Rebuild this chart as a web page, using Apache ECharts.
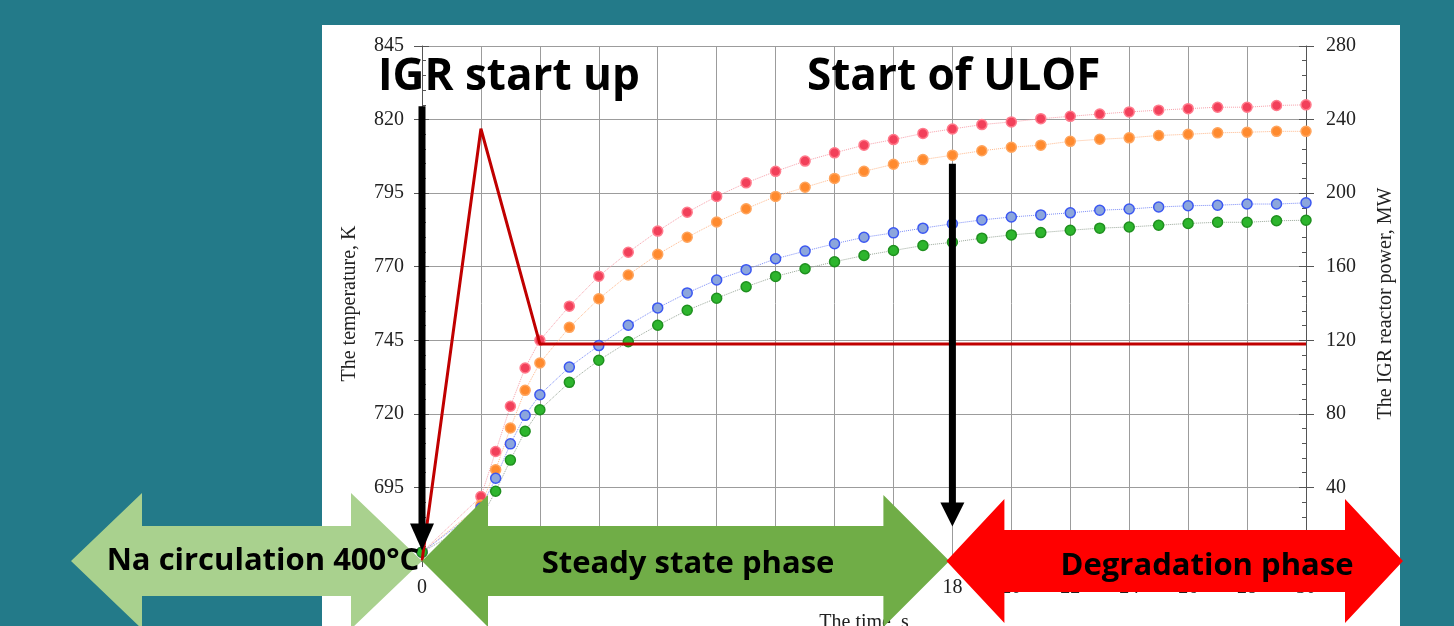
<!DOCTYPE html>
<html>
<head>
<meta charset="utf-8">
<script src="https://cdn.jsdelivr.net/npm/echarts@6/dist/echarts.min.js"></script>
<style>
html,body{margin:0;padding:0;background:#237a89;}
#chart{width:1454px;height:626px;}
</style>
</head>
<body>
<div id="chart"></div>
<script>
// ---- data ----
const timeS = [0, 2, 2.5, 3, 3.5, 4, 5, 6, 7, 8, 9, 10, 11, 12, 13, 14, 15, 16, 17, 18, 19, 20, 21, 22, 23, 24, 25, 26, 27, 28, 29, 30];
const tempRed    = [673, 691.9, 707.2, 722.6, 735.6, 745, 756.6, 766.8, 774.9, 782.1, 788.5, 793.9, 798.5, 802.4, 805.9, 808.7, 811.3, 813.2, 815.3, 816.8, 818.3, 819.2, 820.3, 821.1, 821.9, 822.6, 823.2, 823.7, 824.2, 824.2, 824.8, 825];
const tempOrange = [673, 689, 701, 715.2, 728, 737.3, 749.4, 759.1, 767.2, 774.2, 780, 785.2, 789.7, 793.9, 797, 800, 802.4, 804.8, 806.4, 807.9, 809.4, 810.6, 811.3, 812.6, 813.3, 813.8, 814.6, 815, 815.5, 815.7, 816, 816];
const tempBlue   = [673, 688, 698.1, 709.8, 719.5, 726.5, 735.9, 743.2, 750.1, 756, 761.1, 765.5, 769, 772.7, 775.3, 777.8, 780, 781.5, 783.1, 784.6, 785.9, 786.9, 787.6, 788.3, 789.2, 789.6, 790.3, 790.7, 790.9, 791.3, 791.3, 791.7];
const tempGreen  = [673, 684.5, 693.7, 704.3, 714.1, 721.4, 730.7, 738.2, 744.5, 750.1, 755.2, 759.3, 763.2, 766.7, 769.3, 771.7, 773.8, 775.5, 777.2, 778.3, 779.7, 780.8, 781.6, 782.4, 783.1, 783.5, 784.1, 784.7, 785.1, 785.1, 785.6, 785.8];
const powerTime = [0, 2, 4, 30];
const powerMW   = [0, 235, 118, 118];
const eventTimes = [0, 18];           // IGR start up, start of ULOF
const eventLabels = ['IGR start up', 'Start of ULOF'];
const phaseLabels = ['Na circulation 400°C', 'Steady state phase', 'Degradation phase'];
const xAxisName = 'The time, s';
const yLeftName = 'The temperature, K';
const yRightName = 'The IGR reactor power, MW';

const pairs = (xs, ys) => xs.map((x, i) => [x, ys[i]]);

const chart = echarts.init(document.getElementById('chart'), null, {renderer: 'canvas'});
const serif = '"Liberation Serif", "Times New Roman", serif';
const gridColor = '#9c9c9c';

function tempSeries(name, vals, fill, border, lineCol) {
  return {
    name, type: 'line', xAxisIndex: 0, yAxisIndex: 0,
    data: pairs(timeS, vals),
    symbol: 'circle', symbolSize: 10,
    itemStyle: {color: fill, borderColor: border, borderWidth: 1.5},
    lineStyle: {color: lineCol, width: 1, type: 'dotted'},
    z: 3
  };
}

chart.setOption({
  animation: false,
  backgroundColor: '#237a89',
  grid: {left: 422, right: 148, top: 46, bottom: 65, containLabel: false, outerBoundsMode: 'none'},
  xAxis: [{
    type: 'value', min: 0, max: 30, interval: 2,
    name: xAxisName, nameLocation: 'middle', nameGap: 52,
    nameTextStyle: {fontFamily: serif, fontSize: 20, color: '#222'},
    axisLine: {show: true, lineStyle: {color: '#555', width: 1}},
    axisTick: {show: true, length: 6, lineStyle: {color: '#555'}},
    axisLabel: {fontFamily: serif, fontSize: 20, color: '#222', margin: 17},
    splitLine: {show: true, lineStyle: {color: gridColor, width: 1}}
  }],
  yAxis: [
    {
      type: 'value', position: 'left', min: 670, max: 845, interval: 25,
      name: yLeftName, nameLocation: 'middle', nameGap: 62, nameRotate: 90,
      nameTextStyle: {fontFamily: serif, fontSize: 20, color: '#222'},
      axisLine: {show: true, lineStyle: {color: '#555'}},
      axisTick: {show: true, length: 8, lineStyle: {color: '#555'}},
      axisLabel: {fontFamily: serif, fontSize: 20, color: '#222', margin: 18},
      splitLine: {show: true, lineStyle: {color: gridColor, width: 1}}
    },
    {
      type: 'value', position: 'right', min: 0, max: 280, interval: 40,
      name: yRightName, nameLocation: 'middle', nameGap: 70, nameRotate: 90,
      nameTextStyle: {fontFamily: serif, fontSize: 20, color: '#222'},
      axisLine: {show: true, lineStyle: {color: '#555'}},
      axisTick: {show: true, length: 8, lineStyle: {color: '#555'}},
      axisLabel: {fontFamily: serif, fontSize: 20, color: '#222', margin: 20},
      splitLine: {show: false}
    },
    {
      type: 'value', position: 'left', min: 670, max: 845, interval: 25,
      axisLine: {show: false},
      axisTick: {show: true, inside: true, length: 7, lineStyle: {color: '#555'}},
      minorTick: {show: true, splitNumber: 5, length: 4, lineStyle: {color: '#555'}},
      axisLabel: {show: false}, splitLine: {show: false}
    },
    {
      type: 'value', position: 'right', min: 0, max: 280, interval: 40,
      axisLine: {show: false},
      axisTick: {show: true, inside: true, length: 7, lineStyle: {color: '#555'}},
      minorTick: {show: true, splitNumber: 5, length: 4, lineStyle: {color: '#555'}},
      axisLabel: {show: false}, splitLine: {show: false}
    }
  ],
  series: [
    tempSeries('red', tempRed, '#f2405a', '#ff7b8c', '#f8a0aa'),
    tempSeries('orange', tempOrange, '#ff8a2e', '#ffa55e', '#ffb98c'),
    tempSeries('blue', tempBlue, '#8ca6dc', '#3b57f2', '#7b8cf8'),
    tempSeries('green', tempGreen, '#2db52d', '#1f901f', '#9aa89a'),
    {
      name: 'power', type: 'line', xAxisIndex: 0, yAxisIndex: 1,
      data: pairs(powerTime, powerMW),
      symbol: 'none',
      lineStyle: {color: '#c00000', width: 3},
      z: 4
    }
  ]
});

// ---- annotations ----
function P(x, y, yi) { return chart.convertToPixel({xAxisIndex: 0, yAxisIndex: yi}, [x, y]); }

function dblArrow(x1, x2, cy, hl, hh, bh, color) {
  return {
    type: 'polygon', z: 100, silent: true,
    shape: {points: [
      [x1, cy], [x1 + hl, cy - hh], [x1 + hl, cy - bh], [x2 - hl, cy - bh], [x2 - hl, cy - hh],
      [x2, cy], [x2 - hl, cy + hh], [x2 - hl, cy + bh], [x1 + hl, cy + bh], [x1 + hl, cy + hh]
    ]},
    style: {fill: color}
  };
}
function downArrow(x, yTop, yTip, headLen, headHalf, shaftW) {
  const yh = yTip - headLen;
  return [
    {type: 'rect', z: 90, silent: true, shape: {x: x - shaftW / 2, y: yTop, width: shaftW, height: yh - yTop + 1}, style: {fill: '#000'}},
    {type: 'polygon', z: 90, silent: true, shape: {points: [[x - headHalf, yh], [x + headHalf, yh], [x, yTip]]}, style: {fill: '#000'}}
  ];
}
function label(text, x, y, size, align) {
  return {type: 'text', z: 110, silent: true,
    style: {text, x, y, fill: '#000', font: 'bold ' + size + 'px "Open Sans", sans-serif', align: align, verticalAlign: 'middle'}};
}

const p0 = P(eventTimes[0], 670, 0);
const p18 = P(eventTimes[1], 670, 0);
const cy = p0[1];
const a0Top = P(eventTimes[0], 824.5, 0)[1], a0Tip = P(eventTimes[0], 673.6, 0)[1];
const a1Top = P(eventTimes[1], 805, 0)[1], a1Tip = P(eventTimes[1], 681.7, 0)[1];

const graphics = [
  {type: 'rect', z: -10, silent: true, shape: {x: 322, y: 25, width: 1078, height: 601}, style: {fill: '#fff'}},
  ...downArrow(p0[0], a0Top, a0Tip, 27, 12, 7),
  ...downArrow(p18[0], a1Top, a1Tip, 24, 12, 7),
  dblArrow(71, p0[0], cy, 71, 68, 35, '#a9d18e'),
  dblArrow(p0[0], p18[0] - 3, cy, 66, 66, 35, '#70ad47'),
  dblArrow(p18[0] - 6, 1403, cy, 58, 62, 31, '#ff0000'),
  label(eventLabels[0], 378, 77, 44, 'left'),
  label(eventLabels[1], 807, 77, 44, 'left'),
  label(phaseLabels[0], 263, 561, 31, 'center'),
  label(phaseLabels[1], 688, 564, 31, 'center'),
  label(phaseLabels[2], 1207, 566, 31, 'center')
];
chart.setOption({graphic: graphics});
</script>
</body>
</html>
